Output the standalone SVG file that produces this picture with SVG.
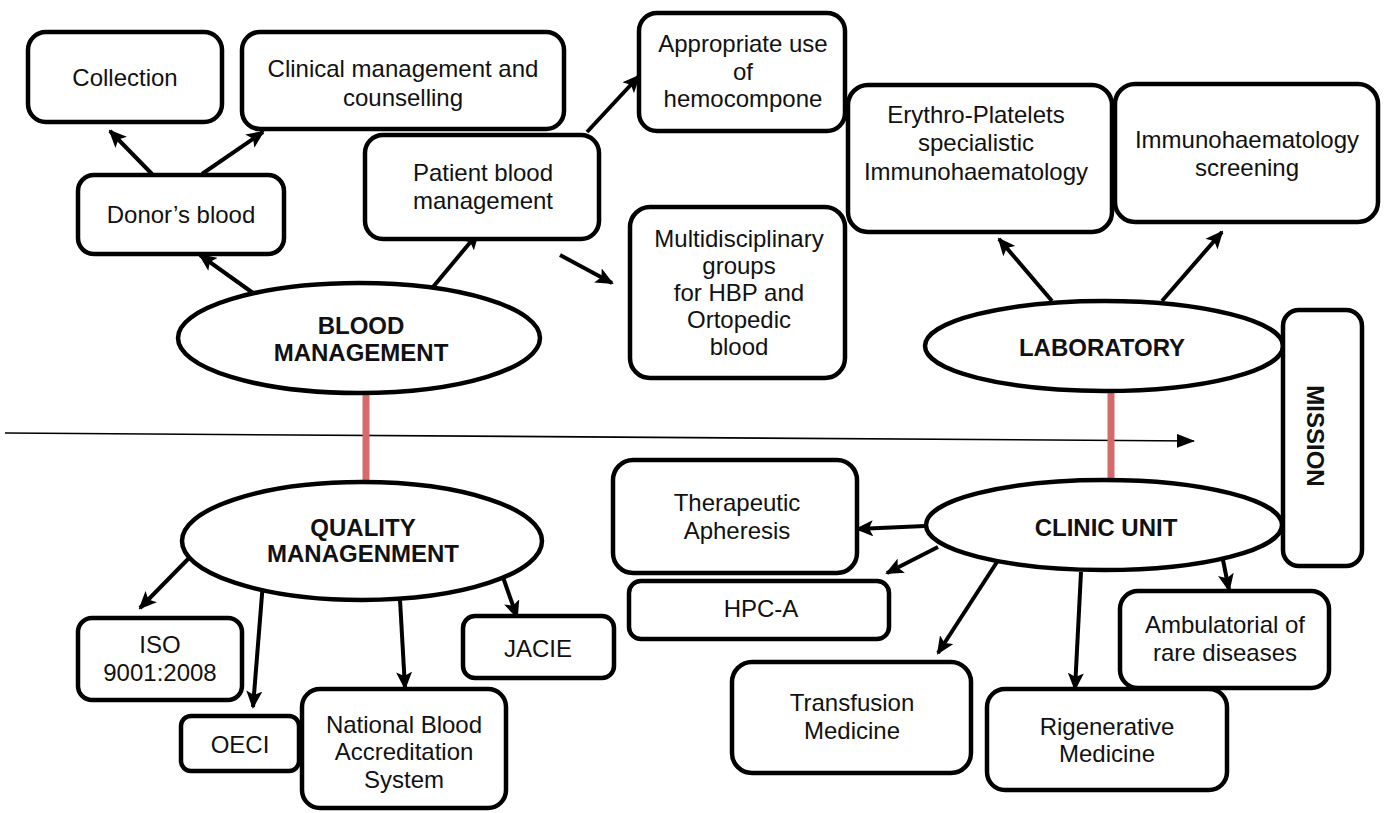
<svg xmlns="http://www.w3.org/2000/svg" width="1386" height="813" viewBox="0 0 1386 813">
  <style>
    .box { fill: #fff; stroke: #000; stroke-width: 4.5; }
    .oval { fill: #fff; stroke: #000; stroke-width: 4.5; }
    .t { font-family: "Liberation Sans", Arial, sans-serif; font-size: 24px; fill: #111; text-anchor: middle; }
    .b { font-weight: bold; }
    .link { stroke: #000; stroke-width: 4; fill: none; marker-end: url(#head); }
    .bond { stroke: #d46a6a; stroke-width: 7; }
    .axis { stroke: #000; stroke-width: 1.6; fill: none; marker-end: url(#thin); }
  </style>
  <defs>
    <marker id="head" markerUnits="userSpaceOnUse" markerWidth="18" markerHeight="16" refX="16" refY="8" orient="auto">
      <path d="M0,0 L18,8 L0,16 L4,8 Z" fill="#000"/>
    </marker>
    <marker id="thin" markerUnits="userSpaceOnUse" markerWidth="18" markerHeight="14" refX="17" refY="7" orient="auto">
      <path d="M0,0 L18,7 L0,14 Z" fill="#000"/>
    </marker>
  </defs>
  <rect width="1386" height="813" fill="#fff"/>

  <!-- connectors -->
  <g id="connectors">
    <line class="axis" x1="5" y1="433" x2="1194" y2="441"/>
    <line class="bond" x1="366" y1="392" x2="366" y2="484"/>
    <line class="bond" x1="1111" y1="391" x2="1111" y2="481"/>
    <line class="link" x1="253" y1="293" x2="200" y2="255"/>
    <line class="link" x1="152" y1="174" x2="110" y2="131"/>
    <line class="link" x1="202" y1="174" x2="263" y2="132"/>
    <line class="link" x1="428" y1="293" x2="478" y2="233"/>
    <line class="link" x1="587" y1="132" x2="639" y2="76"/>
    <line class="link" x1="560" y1="255" x2="612" y2="283"/>
    <line class="link" x1="1052" y1="301" x2="999" y2="239"/>
    <line class="link" x1="1162" y1="301" x2="1222" y2="232"/>
    <line class="link" x1="192" y1="555" x2="140" y2="608"/>
    <line class="link" x1="263" y1="582" x2="253" y2="707"/>
    <line class="link" x1="399" y1="582" x2="405" y2="688"/>
    <line class="link" x1="498" y1="563" x2="517" y2="617"/>
    <line class="link" x1="925" y1="526" x2="857" y2="529"/>
    <line class="link" x1="938" y1="547" x2="887" y2="573"/>
    <line class="link" x1="997" y1="562" x2="938" y2="653"/>
    <line class="link" x1="1081" y1="572" x2="1075" y2="689"/>
    <line class="link" x1="1222" y1="555" x2="1229" y2="590"/>
  </g>

  <!-- blood management branch -->
  <g id="collection">
    <rect class="box" x="28" y="32" width="194" height="90" rx="18"/>
    <text class="t" x="125" y="86">Collection</text>
  </g>
  <g id="clinical-management">
    <rect class="box" x="242" y="32" width="322" height="97" rx="18"/>
    <text class="t" x="403" y="77">Clinical management and</text>
    <text class="t" x="403" y="106">counselling</text>
  </g>
  <g id="donors-blood">
    <rect class="box" x="78" y="175" width="206" height="79" rx="16"/>
    <text class="t" x="181" y="223">Donor’s blood</text>
  </g>
  <g id="patient-blood">
    <rect class="box" x="365" y="135" width="234" height="104" rx="18"/>
    <text class="t" x="483" y="181">Patient blood</text>
    <text class="t" x="483" y="209">management</text>
  </g>
  <g id="appropriate-use">
    <rect class="box" x="639" y="13" width="206" height="118" rx="18"/>
    <text class="t" x="743" y="52">Appropriate use</text>
    <text class="t" x="743" y="80">of</text>
    <text class="t" x="743" y="107">hemocompone</text>
  </g>
  <g id="multidisciplinary">
    <rect class="box" x="630" y="207" width="215" height="171" rx="20"/>
    <text class="t" x="739" y="247">Multidisciplinary</text>
    <text class="t" x="739" y="274">groups</text>
    <text class="t" x="739" y="301">for HBP and</text>
    <text class="t" x="739" y="328">Ortopedic</text>
    <text class="t" x="739" y="355">blood</text>
  </g>
  <g id="blood-management">
    <ellipse class="oval" cx="359" cy="338" rx="181" ry="55"/>
    <text class="t b" x="361" y="334">BLOOD</text>
    <text class="t b" x="361" y="361">MANAGEMENT</text>
  </g>

  <!-- laboratory branch -->
  <g id="erythro-platelets">
    <rect class="box" x="848" y="85" width="264" height="147" rx="20"/>
    <text class="t" x="976" y="123">Erythro-Platelets</text>
    <text class="t" x="976" y="151">specialistic</text>
    <text class="t" x="976" y="180">Immunohaematology</text>
  </g>
  <g id="immuno-screening">
    <rect class="box" x="1115" y="84" width="263" height="138" rx="20"/>
    <text class="t" x="1247" y="148">Immunohaematology</text>
    <text class="t" x="1247" y="176">screening</text>
  </g>
  <g id="laboratory">
    <ellipse class="oval" cx="1104" cy="346" rx="179" ry="45"/>
    <text class="t b" x="1102" y="356">LABORATORY</text>
  </g>
  <g id="mission">
    <rect class="box" x="1283" y="310" width="79" height="256" rx="16"/>
    <text class="t b" transform="translate(1307,436) rotate(90)" x="0" y="0">MISSION</text>
  </g>

  <!-- quality branch -->
  <g id="quality-management">
    <ellipse class="oval" cx="362" cy="541" rx="180" ry="59"/>
    <text class="t b" x="363" y="536">QUALITY</text>
    <text class="t b" x="363" y="562">MANAGENMENT</text>
  </g>
  <g id="iso">
    <rect class="box" x="78" y="618" width="164" height="82" rx="14"/>
    <text class="t" x="160" y="653">ISO</text>
    <text class="t" x="160" y="681">9001:2008</text>
  </g>
  <g id="oeci">
    <rect class="box" x="181" y="716" width="118" height="55" rx="10"/>
    <text class="t" x="240" y="753">OECI</text>
  </g>
  <g id="national-blood">
    <rect class="box" x="302" y="689" width="204" height="119" rx="18"/>
    <text class="t" x="404" y="733">National Blood</text>
    <text class="t" x="404" y="760">Accreditation</text>
    <text class="t" x="404" y="788">System</text>
  </g>
  <g id="jacie">
    <rect class="box" x="463" y="616" width="151" height="62" rx="12"/>
    <text class="t" x="538" y="657">JACIE</text>
  </g>

  <!-- clinic branch -->
  <g id="clinic-unit">
    <ellipse class="oval" cx="1104" cy="525" rx="178" ry="45"/>
    <text class="t b" x="1106" y="536">CLINIC UNIT</text>
  </g>
  <g id="therapeutic-apheresis">
    <rect class="box" x="613" y="460" width="244" height="113" rx="20"/>
    <text class="t" x="737" y="511">Therapeutic</text>
    <text class="t" x="737" y="539">Apheresis</text>
  </g>
  <g id="hpc-a">
    <rect class="box" x="629" y="581" width="260" height="58" rx="12"/>
    <text class="t" x="761" y="617">HPC-A</text>
  </g>
  <g id="transfusion-medicine">
    <rect class="box" x="732" y="662" width="239" height="111" rx="20"/>
    <text class="t" x="852" y="711">Transfusion</text>
    <text class="t" x="852" y="739">Medicine</text>
  </g>
  <g id="rigenerative-medicine">
    <rect class="box" x="987" y="689" width="240" height="101" rx="18"/>
    <text class="t" x="1107" y="735">Rigenerative</text>
    <text class="t" x="1107" y="762">Medicine</text>
  </g>
  <g id="ambulatorial">
    <rect class="box" x="1120" y="591" width="209" height="97" rx="18"/>
    <text class="t" x="1225" y="633">Ambulatorial of</text>
    <text class="t" x="1225" y="661">rare diseases</text>
  </g>
</svg>
